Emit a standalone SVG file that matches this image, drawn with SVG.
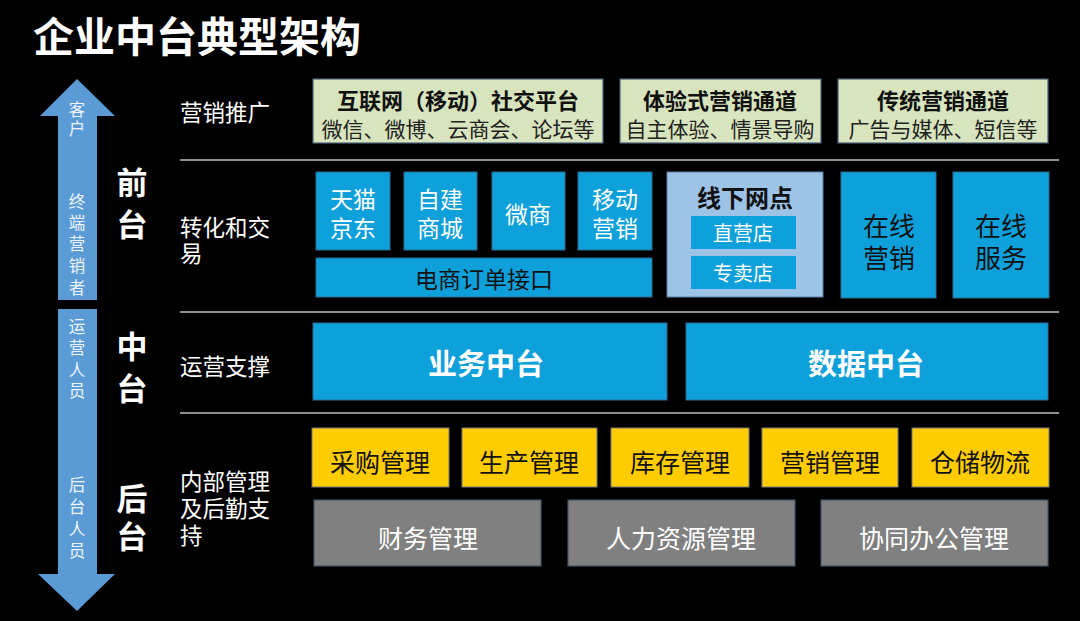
<svg xmlns="http://www.w3.org/2000/svg" width="1080" height="621" viewBox="0 0 1080 621">
<style>
text{font-family:"Noto Sans CJK SC","Noto Sans",sans-serif;dominant-baseline:central;text-anchor:middle}
.g{fill:#d7e4bd;stroke:#4a6078;stroke-width:1.2}
.b{fill:#0ea0da;stroke:#2f6a8e;stroke-width:1}
.lb{fill:#9dc3e6;stroke:#5a7fa0;stroke-width:1}
.y{fill:#ffcc00;stroke:#7a7a7a;stroke-width:1}
.gr{fill:#808080;stroke:#44546a;stroke-width:1.2}
.sep{stroke:#bfbfbf;stroke-width:1.5}
.arr{fill:#5b9bd5}
.at{fill:#eef4fb;font-size:16.5px}
.big{fill:#fff;font-size:31px;font-weight:bold}
.rl{fill:#fff;font-size:22.5px;text-anchor:start}
.gt{fill:#111;font-size:22px;font-weight:bold}
.gs{fill:#222;font-size:21px}
.wt{fill:#fff;font-size:23px}
.dt{fill:#111;font-size:23px}
</style>
<rect width="1080" height="621" fill="#000"/>
<text x="33" y="34" fill="#fff" style="font-size:41px;font-weight:bold;text-anchor:start">企业中台典型架构</text>

<g id="side-arrows">
<polygon class="arr" points="77,79 115,116 97,116 97,300 58,300 58,116 40,116"/>
<polygon class="arr" points="58,309 97,309 97,574 115,574 77,611 38,574 58,574"/>
<text class="at" x="77" y="109">客</text><text class="at" x="77" y="128">户</text>
<text class="at" x="77" y="201">终</text><text class="at" x="77" y="222">端</text><text class="at" x="77" y="243">营</text><text class="at" x="77" y="265">销</text><text class="at" x="77" y="287">者</text>
<text class="at" x="77" y="326">运</text><text class="at" x="77" y="347">营</text><text class="at" x="77" y="369">人</text><text class="at" x="77" y="390">员</text>
<text class="at" x="77" y="484">后</text><text class="at" x="77" y="506">台</text><text class="at" x="77" y="528">人</text><text class="at" x="77" y="550">员</text>
</g>

<g id="tier-labels">
<text class="big" x="132" y="180">前</text><text class="big" x="132" y="222">台</text>
<text class="big" x="132" y="344">中</text><text class="big" x="132" y="386">台</text>
<text class="big" x="132" y="496">后</text><text class="big" x="132" y="534">台</text>
</g>

<g id="row-labels">
<text class="rl" x="180" y="111">营销推广</text>
<text class="rl" x="180" y="226">转化和交</text><text class="rl" x="180" y="252">易</text>
<text class="rl" x="180" y="365">运营支撑</text>
<text class="rl" x="180" y="480">内部管理</text><text class="rl" x="180" y="507">及后勤支</text><text class="rl" x="180" y="534">持</text>
</g>

<g id="separators">
<line class="sep" x1="180" y1="160" x2="1059" y2="160"/>
<line class="sep" x1="180" y1="312" x2="1059" y2="312"/>
<line class="sep" x1="180" y1="413" x2="1059" y2="413"/>
</g>

<g id="n-social"><rect class="g" x="313" y="79" width="290" height="64"/><text class="gt" x="458" y="99">互联网（移动）社交平台</text><text class="gs" x="458" y="128">微信、微博、云商会、论坛等</text></g>
<g id="n-exp"><rect class="g" x="620" y="79" width="201" height="64"/><text class="gt" x="720" y="99">体验式营销通道</text><text class="gs" x="720" y="128">自主体验、情景导购</text></g>
<g id="n-trad"><rect class="g" x="838" y="79" width="210" height="64"/><text class="gt" x="943" y="99">传统营销通道</text><text class="gs" x="943" y="128">广告与媒体、短信等</text></g>

<g id="n-tmall"><rect class="b" x="316" y="172" width="74" height="78"/><text class="wt" x="353" y="198">天猫</text><text class="wt" x="353" y="227">京东</text></g>
<g id="n-mall"><rect class="b" x="404" y="172" width="73" height="78"/><text class="wt" x="440" y="198">自建</text><text class="wt" x="440" y="227">商城</text></g>
<g id="n-weishang"><rect class="b" x="492" y="172" width="73" height="78"/><text class="wt" x="528" y="213">微商</text></g>
<g id="n-mobile"><rect class="b" x="578" y="172" width="74" height="78"/><text class="wt" x="615" y="198">移动</text><text class="wt" x="615" y="227">营销</text></g>
<g id="n-order"><rect class="b" x="316" y="258" width="336" height="39"/><text class="dt" x="484" y="278">电商订单接口</text></g>
<g id="n-offline"><rect class="lb" x="667" y="172" width="156" height="125"/><text x="745" y="196" style="fill:#111;font-size:24px;font-weight:bold">线下网点</text>
<rect class="b" x="691" y="216" width="105" height="33" style="stroke:none"/><text x="743" y="232" style="fill:#fff;font-size:20px">直营店</text>
<rect class="b" x="691" y="256" width="105" height="33" style="stroke:none"/><text x="743" y="272" style="fill:#fff;font-size:20px">专卖店</text></g>
<g id="n-online-mkt"><rect class="b" x="841" y="172" width="95" height="126"/><text class="dt" x="889" y="224" style="font-size:26px">在线</text><text class="dt" x="889" y="256" style="font-size:26px">营销</text></g>
<g id="n-online-svc"><rect class="b" x="953" y="172" width="96" height="126"/><text class="dt" x="1001" y="224" style="font-size:26px">在线</text><text class="dt" x="1001" y="256" style="font-size:26px">服务</text></g>

<g id="n-biz"><rect class="b" x="313" y="323" width="354" height="77"/><text x="486" y="362" style="fill:#fff;font-size:29px;font-weight:bold">业务中台</text></g>
<g id="n-data"><rect class="b" x="686" y="323" width="362" height="77"/><text x="866" y="362" style="fill:#fff;font-size:29px;font-weight:bold">数据中台</text></g>

<g id="n-purchase"><rect class="y" x="312" y="428" width="137" height="59"/><text class="dt" x="380" y="461" style="font-size:25px">采购管理</text></g>
<g id="n-production"><rect class="y" x="462" y="428" width="135" height="59"/><text class="dt" x="529" y="461" style="font-size:25px">生产管理</text></g>
<g id="n-inventory"><rect class="y" x="611" y="428" width="138" height="59"/><text class="dt" x="680" y="461" style="font-size:25px">库存管理</text></g>
<g id="n-marketing"><rect class="y" x="762" y="428" width="136" height="59"/><text class="dt" x="830" y="461" style="font-size:25px">营销管理</text></g>
<g id="n-logistics"><rect class="y" x="912" y="428" width="137" height="59"/><text class="dt" x="980" y="461" style="font-size:25px">仓储物流</text></g>

<g id="n-finance"><rect class="gr" x="314" y="500" width="227" height="66"/><text x="428" y="537" style="fill:#fff;font-size:25px">财务管理</text></g>
<g id="n-hr"><rect class="gr" x="568" y="500" width="227" height="66"/><text x="681" y="537" style="fill:#fff;font-size:25px">人力资源管理</text></g>
<g id="n-office"><rect class="gr" x="821" y="500" width="227" height="66"/><text x="934" y="537" style="fill:#fff;font-size:25px">协同办公管理</text></g>

<g id="connectors"></g>
</svg>
